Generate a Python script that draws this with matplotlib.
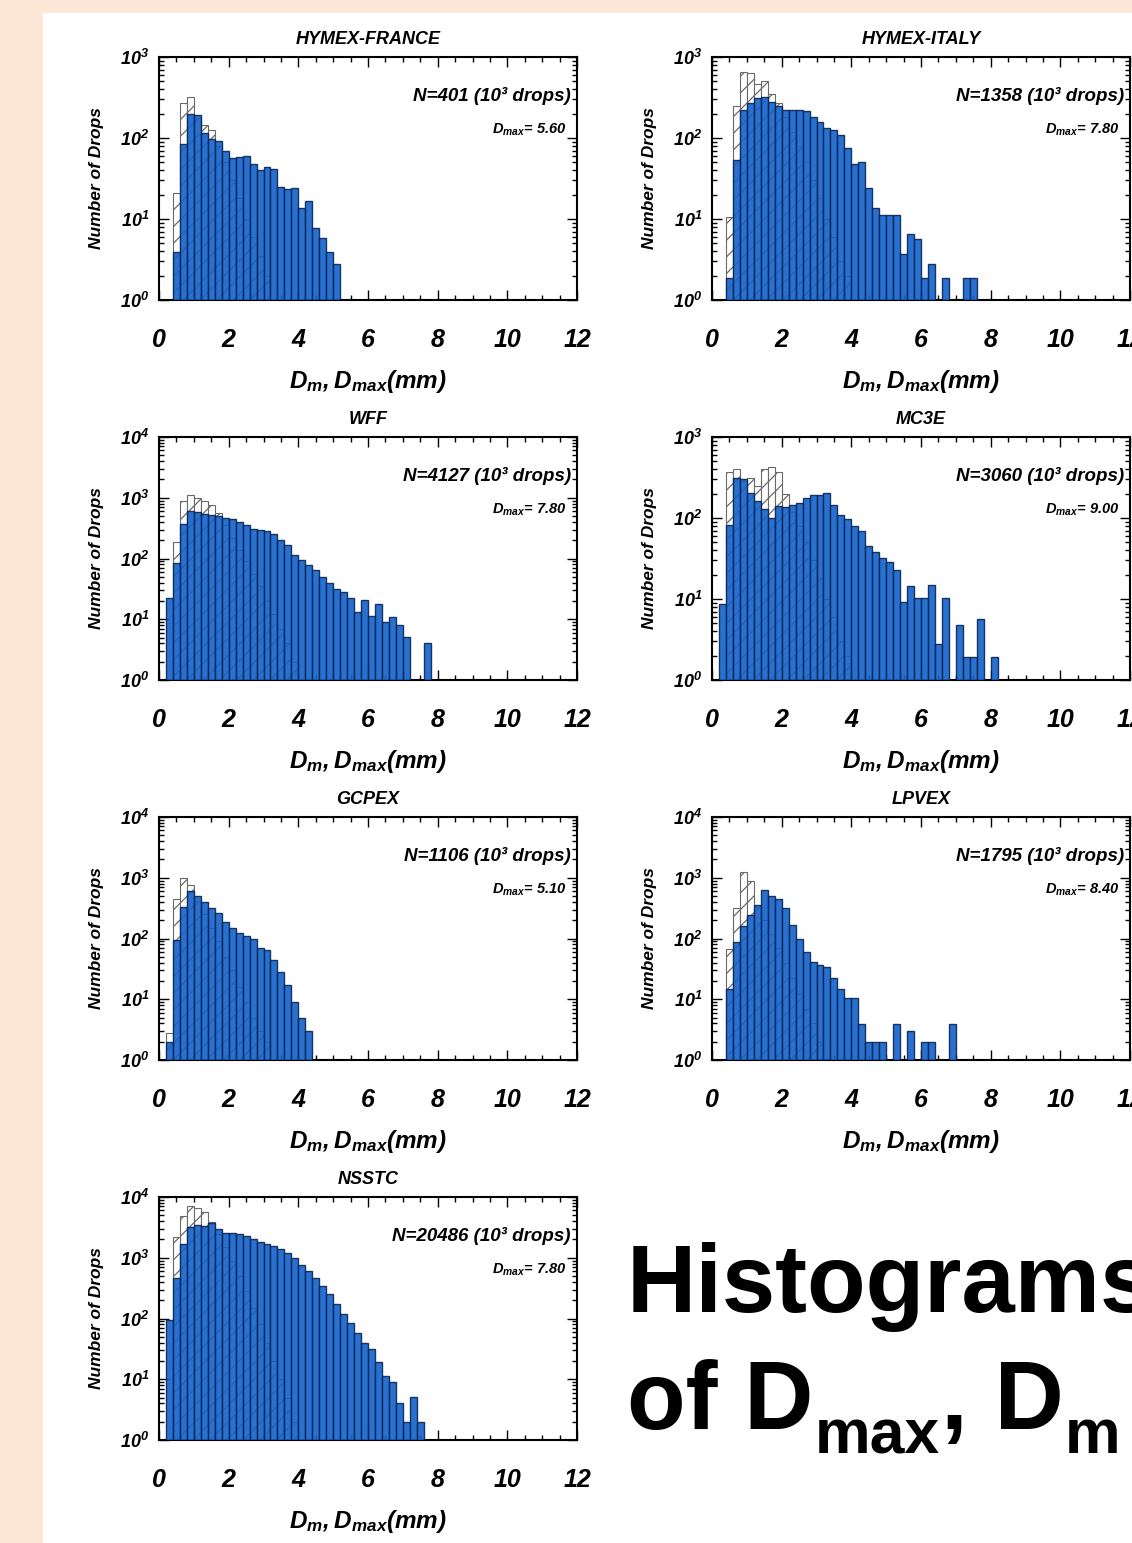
import numpy as np
import matplotlib
matplotlib.use("Agg")
import matplotlib.pyplot as plt
from matplotlib.patches import Rectangle
from matplotlib.ticker import FixedLocator, LogLocator, NullFormatter, MultipleLocator

plt.rcParams["font.family"] = ["Liberation Sans", "DejaVu Sans"]
plt.rcParams["mathtext.fontset"] = "custom"
plt.rcParams["mathtext.bf"] = "Liberation Sans:bold:italic"
plt.rcParams["mathtext.rm"] = "Liberation Sans:bold"
plt.rcParams["hatch.linewidth"] = 0.9

# campaign data (counts per 0.2 mm bin)
names = ["HYMEX-FRANCE", "HYMEX-ITALY", "WFF", "MC3E", "GCPEX", "LPVEX", "NSSTC"]
n_drops = [401, 1358, 4127, 3060, 1106, 1795, 20486]
dmax_text = ["5.60", "7.80", "7.80", "9.00", "5.10", "8.40", "7.80"]
ytop_exp = [3, 3, 4, 3, 4, 4, 4]
xticks = [0, 2, 4, 6, 8, 10, 12]
bin_width = 0.2

blue_start = [0.4, 0.4, 0.2, 0.2, 0.2, 0.4, 0.2]
blue_france = [3.9, 84, 199, 190, 115, 98, 92, 70, 56, 58, 60, 48, 40, 44, 42,
               25, 23.6, 24, 13.8, 16.6, 7.8, 5.8, 3.9, 2.8]
blue_italy = [1.85, 54, 224, 270, 310, 320, 280, 250, 224, 224, 224, 216, 184, 156,
              133, 126, 108, 75, 48, 50, 24, 13.5, 11.2, 11.2, 11.2, 3.7, 6.6, 5.6,
              1.85, 2.8, 0, 1.85, 0, 0, 1.85, 1.85]
blue_wff = [22.7, 83, 366, 600, 590, 545, 520, 500, 470, 440, 400, 360, 310, 295,
            285, 250, 200, 165, 113, 94, 78, 65, 50, 40, 31, 28, 22.7, 13, 21, 11.5,
            18, 9, 10.8, 8, 5.2, 0, 0, 4.0]
blue_mc3e = [8.6, 81, 310, 305, 203, 160, 130, 100, 139, 135, 143, 153, 177, 193,
             190, 203, 143, 110, 98, 79, 69, 45, 38, 32, 29, 23, 9.3, 14.5, 10.4,
             10.4, 15, 2.8, 10.4, 0, 4.8, 1.9, 1.9, 5.6, 0, 1.9]
blue_gcpex = [2.0, 94, 330, 600, 500, 400, 320, 260, 190, 150, 125, 110, 100, 70,
              65, 45, 28, 17, 9, 5, 3]
blue_lpvex = [14.7, 86, 160, 245, 360, 620, 510, 450, 320, 170, 97, 59, 41, 36, 34,
              22, 14.5, 10.5, 10.5, 3.9, 2, 2, 2, 0, 3.9, 0, 3.0, 0, 2, 2, 0, 0, 3.9]
blue_nsstc = [96, 470, 1700, 3200, 3400, 3300, 3800, 3000, 2600, 2600, 2450, 2300,
              2050, 1800, 1700, 1550, 1380, 1190, 980, 770, 600, 470, 345, 255, 175,
              120, 83, 57, 40, 31, 19, 11.5, 9, 4.0, 2.0, 5.2, 2.0]

hatch_start = [0.4, 0.4, 0.2, 0.2, 0.2, 0.4, 0.2]
hatch_france = [21, 270, 325, 175, 143, 126, 80, 50, 30, 18, 10, 6, 3.5, 2]
hatch_italy = [10.6, 245, 660, 630, 460, 500, 350, 270, 180, 120, 80, 50, 30, 18,
               10, 6, 3, 2]
hatch_wff = [0, 185, 900, 1100, 1000, 870, 750, 560, 350, 220, 140, 90, 55, 35, 20,
             12, 7, 4, 2]
hatch_mc3e = [0, 375, 400, 290, 310, 245, 400, 430, 370, 200, 120, 80, 50, 30, 18,
              10, 6, 3, 2]
hatch_gcpex = [2.8, 440, 1000, 770, 420, 250, 150, 90, 50, 30, 16, 9, 5, 3, 2]
hatch_lpvex = [67, 320, 1240, 870, 330, 200, 120, 70, 40, 22, 12, 7, 4, 2]
hatch_nsstc = [0, 2200, 4900, 7000, 6700, 5700, 3900, 2500, 1500, 900, 500, 280,
               150, 80, 40, 20, 10, 5, 2]

blue_all = [blue_france, blue_italy, blue_wff, blue_mc3e, blue_gcpex, blue_lpvex, blue_nsstc]
hatch_all = [hatch_france, hatch_italy, hatch_wff, hatch_mc3e, hatch_gcpex, hatch_lpvex, hatch_nsstc]

W, H = 1132, 1543
fig = plt.figure(figsize=(W / 100, H / 100), dpi=100, facecolor="#FDE8D8")
fig.add_artist(Rectangle((43 / W, 0), 1 - 43 / W, (H - 13) / H, transform=fig.transFigure,
                         facecolor="white", edgecolor="none", zorder=0))

col_left = [159, 712]
row_top = [57, 437, 817, 1197]
ax_w, ax_h = 418, 243

BLUE = "#1262cc"
EDGE = "#0a2550"

for i, name in enumerate(names):
    r, c = divmod(i, 2)
    ax = fig.add_axes([col_left[c] / W, 1 - (row_top[r] + ax_h) / H, ax_w / W, ax_h / H])

    hc = np.array(hatch_all[i], dtype=float)
    hx = hatch_start[i] + bin_width * np.arange(len(hc))
    m = hc > 0
    ax.bar(hx[m], hc[m], width=bin_width, align="edge", facecolor="white",
           edgecolor="#6a6a6a", hatch="//", linewidth=0.8, zorder=2)

    bc = np.array(blue_all[i], dtype=float)
    bx = blue_start[i] + bin_width * np.arange(len(bc))
    m = bc > 0
    ax.bar(bx[m], bc[m], width=bin_width, align="edge", facecolor=BLUE,
           edgecolor=EDGE, linewidth=1.0, alpha=0.9, zorder=3)

    ax.set_yscale("log")
    ax.set_ylim(1, 10 ** ytop_exp[i])
    ax.set_xlim(0, 12)

    ax.xaxis.set_major_locator(FixedLocator(xticks))
    ax.xaxis.set_minor_locator(MultipleLocator(0.5))
    ax.set_xticklabels([str(v) for v in xticks], fontsize=18,
                       fontweight="bold", style="italic")
    ylocs = [10 ** k for k in range(ytop_exp[i] + 1)]
    ax.yaxis.set_major_locator(FixedLocator(ylocs))
    ax.yaxis.set_minor_locator(LogLocator(base=10, subs=np.arange(2, 10) * 1.0))
    ax.yaxis.set_minor_formatter(NullFormatter())
    ax.set_yticklabels([r"$\mathbf{10^{%d}}$" % k for k in range(ytop_exp[i] + 1)],
                       fontsize=13)

    ax.tick_params(which="both", direction="in", top=True, right=True, width=1.0)
    ax.tick_params(which="major", length=7)
    ax.tick_params(which="minor", length=3.5)
    ax.tick_params(axis="x", which="major", pad=20)
    ax.tick_params(axis="y", which="major", pad=7)
    for sp in ax.spines.values():
        sp.set_linewidth(1.5)

    ax.set_xlabel(r"$\mathbf{D_{m},D_{max}(mm)}$", fontsize=17.5, labelpad=12)
    ax.set_ylabel("Number of Drops", fontsize=12.5, fontweight="bold",
                  style="italic", labelpad=12)
    ax.set_title(name, fontsize=13, fontweight="bold", style="italic", pad=9)

    ax.text(0.985, 0.84, "N=%d (10³ drops)" % n_drops[i], transform=ax.transAxes,
            ha="right", va="center", fontsize=13.5, fontweight="bold", style="italic",
            zorder=5)
    ax.text(0.975, 0.70, r"$\mathbf{D_{max}}$= " + dmax_text[i], transform=ax.transAxes,
            ha="right", va="center", fontsize=10.5, fontweight="bold", style="italic",
            zorder=5)

# big slide caption, built piece by piece so the subscripts can be sized
fig.text(627 / W, 1 - 1312 / H, "Histograms", fontsize=69, fontweight="bold",
         ha="left", va="baseline")
fig.canvas.draw()
renderer = fig.canvas.get_renderer()
pieces = [("of D", 69, 0), ("max", 45, -24), (",", 69, 0), (" D", 69, 0), ("m", 45, -24)]
x_px = 627
for txt, size, dy in pieces:
    t = fig.text(x_px / W, (H - 1429 + dy) / H, txt, fontsize=size, fontweight="bold",
                 ha="left", va="baseline")
    bb = t.get_window_extent(renderer=renderer)
    x_px += bb.width + 1

fig.savefig("out.png", dpi=100, facecolor=fig.get_facecolor())
